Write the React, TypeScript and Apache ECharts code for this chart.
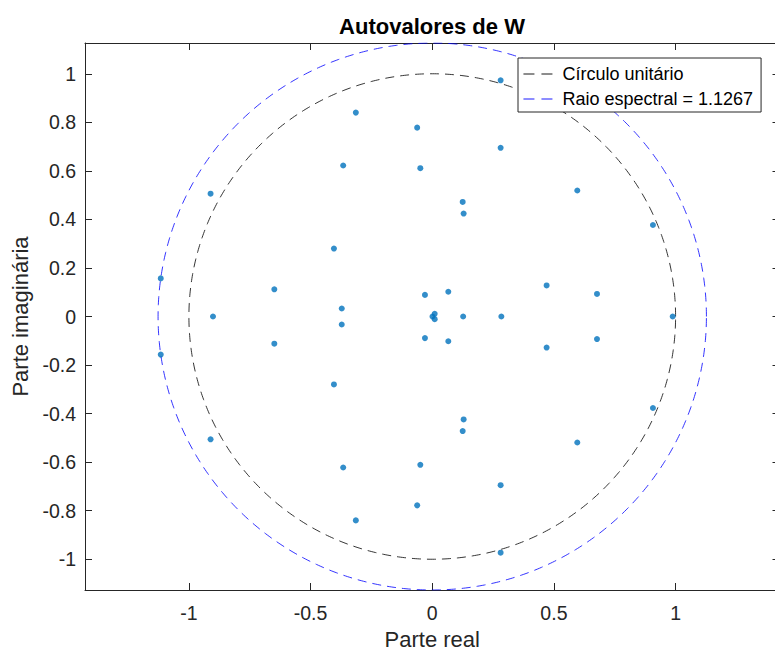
import React, { useEffect, useRef } from "react";
import * as echarts from "echarts";

// Eigenvalues of W (real and imaginary parts, conjugate pairs listed explicitly)
const eigReal = [
  0.281, 0.281, -0.314, -0.314, -0.062, -0.062, 0.281, 0.281, -0.366, -0.366,
  -0.049, -0.049, -0.911, -0.911, 0.596, 0.596, 0.125, 0.125, 0.129, 0.129,
  0.907, 0.907, -0.404, -0.404, -1.1157, -1.1157, -0.649, -0.649, -0.03, -0.03,
  0.066, 0.066, 0.47, 0.47, 0.677, 0.677, -0.372, -0.372, 0.01, 0.01,
  -0.901, 0.127, 0.284, 0.988, 0.001,
];
const eigImag = [
  0.973, -0.973, 0.84, -0.84, 0.778, -0.778, 0.695, -0.695, 0.622, -0.622,
  0.611, -0.611, 0.506, -0.506, 0.519, -0.519, 0.472, -0.472, 0.424, -0.424,
  0.377, -0.377, 0.28, -0.28, 0.157, -0.157, 0.112, -0.112, 0.089, -0.089,
  0.102, -0.102, 0.128, -0.128, 0.093, -0.093, 0.033, -0.033, 0.011, -0.011,
  0, 0, 0, 0, 0,
];

const unitRadius = 1;
const spectralRadius = 1.1267;

const xTicks = [-1, -0.5, 0, 0.5, 1];
const yTicks = [-1, -0.8, -0.6, -0.4, -0.2, 0, 0.2, 0.4, 0.6, 0.8, 1];

const xLimit = 1.427;
const yLimit = 1.1267;

const FONT = "'Liberation Sans', Arial, Helvetica, sans-serif";
const AXIS_COLOR = "#262626";
const DASH = [9, 6];

function circlePoints(r: number, n = 720): number[][] {
  const pts: number[][] = [];
  for (let i = 0; i <= n; i++) {
    const t = (2 * Math.PI * i) / n;
    pts.push([r * Math.cos(t), r * Math.sin(t)]);
  }
  return pts;
}

export default function App() {
  const ref = useRef<HTMLDivElement>(null);

  useEffect(() => {
    if (!ref.current) return;
    const chart = echarts.init(ref.current, undefined, { renderer: "svg" });

    const points = eigReal.map((re, i) => [re, eigImag[i]]);
    const unitName = "Círculo unitário";
    const specName = `Raio espectral = ${spectralRadius}`;

    const axisLine = { show: true, onZero: false, lineStyle: { color: AXIS_COLOR, width: 1 } };
    const tickStyle = { color: AXIS_COLOR, width: 1 };

    chart.setOption({
      animation: false,
      backgroundColor: "#ffffff",
      grid: { left: 85, top: 43, width: 694.5, height: 547.7, containLabel: false },
      xAxis: [
        {
          type: "value",
          position: "bottom",
          min: -xLimit,
          max: xLimit,
          axisLine,
          axisTick: { show: true, inside: true, length: 7, customValues: xTicks, lineStyle: tickStyle },
          axisLabel: {
            customValues: xTicks,
            margin: 13,
            fontSize: 19.5,
            color: AXIS_COLOR,
            fontFamily: FONT,
          },
          splitLine: { show: false },
          name: "Parte real",
          nameLocation: "middle",
          nameGap: 38,
          nameTextStyle: { fontSize: 22, color: AXIS_COLOR, fontFamily: FONT },
        },
        {
          type: "value",
          position: "top",
          min: -xLimit,
          max: xLimit,
          axisLine,
          axisTick: { show: true, inside: true, length: 7, customValues: xTicks, lineStyle: tickStyle },
          axisLabel: { show: false },
          splitLine: { show: false },
        },
      ],
      yAxis: [
        {
          type: "value",
          position: "left",
          min: -yLimit,
          max: yLimit,
          axisLine,
          axisTick: { show: true, inside: true, length: 7, customValues: yTicks, lineStyle: tickStyle },
          axisLabel: {
            customValues: yTicks,
            margin: 9,
            fontSize: 19.5,
            color: AXIS_COLOR,
            fontFamily: FONT,
          },
          splitLine: { show: false },
          name: "Parte imaginária",
          nameLocation: "middle",
          nameGap: 47,
          nameTextStyle: { fontSize: 22, color: AXIS_COLOR, fontFamily: FONT },
        },
        {
          type: "value",
          position: "right",
          min: -yLimit,
          max: yLimit,
          axisLine,
          axisTick: { show: true, inside: true, length: 7, customValues: yTicks, lineStyle: tickStyle },
          axisLabel: { show: false },
          splitLine: { show: false },
        },
      ],
      legend: {
        orient: "vertical",
        left: 518,
        top: 58,
        padding: [7, 8, 4, 5],
        itemWidth: 30,
        itemHeight: 14,
        itemGap: 7,
        backgroundColor: "#ffffff",
        borderColor: AXIS_COLOR,
        borderWidth: 1,
        borderRadius: 0,
        selectedMode: false,
        itemStyle: { opacity: 0 },
        lineStyle: { type: [11, 7], width: 0.9 },
        textStyle: { fontSize: 18, color: "#000000", fontFamily: FONT, padding: [0, 0, 0, 4] },
        data: [unitName, specName],
      },
      graphic: [
        {
          type: "text",
          x: 432,
          y: 26,
          style: {
            text: "Autovalores de W",
            fill: "#000000",
            font: `bold 22px ${FONT}`,
            align: "center",
            verticalAlign: "middle",
            textAlign: "center",
            textVerticalAlign: "middle",
          },
        },
      ],
      series: [
        {
          type: "scatter",
          xAxisIndex: 0,
          yAxisIndex: 0,
          data: points,
          symbol: "circle",
          symbolSize: 6,
          itemStyle: { color: "#0072BD" },
          z: 3,
        },
        {
          name: unitName,
          type: "line",
          xAxisIndex: 0,
          yAxisIndex: 0,
          data: circlePoints(unitRadius),
          showSymbol: false,
          symbol: "none",
          lineStyle: { color: "#000000", width: 0.8, type: DASH },
          itemStyle: { color: "#000000" },
          z: 2,
        },
        {
          name: specName,
          type: "line",
          xAxisIndex: 0,
          yAxisIndex: 0,
          data: circlePoints(spectralRadius),
          showSymbol: false,
          symbol: "none",
          lineStyle: { color: "#0000ff", width: 0.8, type: DASH },
          itemStyle: { color: "#0000ff" },
          z: 2,
        },
      ],
    });

    return () => chart.dispose();
  }, []);

  return (
    <div
      style={{
        position: "absolute",
        left: 0,
        top: 0,
        width: 775,
        height: 655,
        overflow: "hidden",
        background: "#fff",
      }}
    >
      <div ref={ref} style={{ width: 790, height: 655 }} />
    </div>
  );
}
